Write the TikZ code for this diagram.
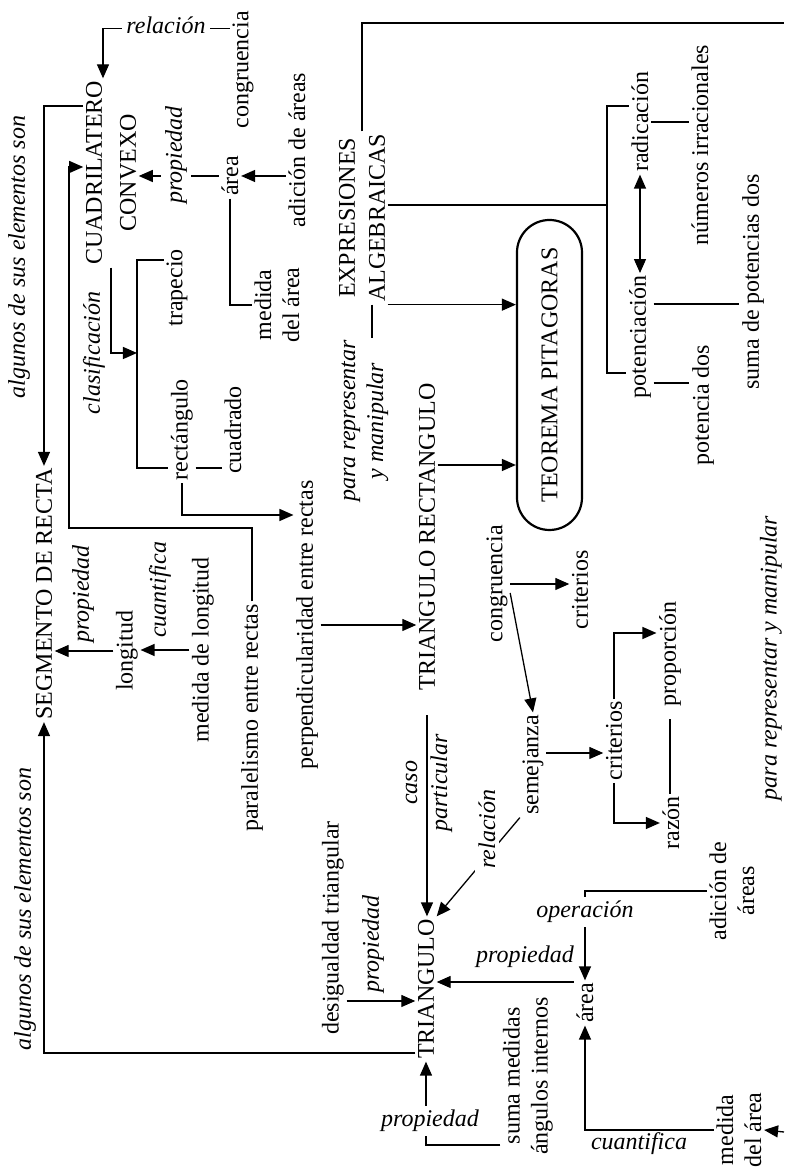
\documentclass[tikz,border=0pt]{standalone}
\usepackage{fontspec}
\setmainfont{Liberation Serif}
\usepackage{tikz}
\usetikzlibrary{arrows.meta}
\usetikzlibrary{shapes.misc}

\begin{document}
\begin{tikzpicture}[rotate=90, transform shape, x=1pt, y=1pt, line width=1.3pt,
            concepto/.style={font=\fontsize{24}{28}\selectfont, align=center, inner sep=2pt},
            enlace/.style={concepto, font=\fontsize{24}{28}\selectfont\itshape},
            corte/.style={enlace, fill=white, inner sep=4pt},
            teo/.style={concepto, draw, line width=2.2pt, rounded rectangle, minimum width=314pt, minimum height=65pt},
            flecha/.style={-{Triangle[length=14pt,width=12pt]}},
            flechas/.style={{Triangle[length=14pt,width=12pt]}-{Triangle[length=14pt,width=12pt]}}
            ]
            \useasboundingbox (0,0) rectangle (1169,784);
            
            % The concepts
            \node[concepto] (cuadri) at (996,673) {CUADRILATERO\\[6pt]CONVEXO};
            \node[concepto] (congruA) at (1099,541) {congruencia};
            \node[concepto] (adicionA) at (1019,487) {adición de áreas};
            \node[concepto] (areaA) at (993,554) {área};
            \node[concepto] (medidaA) at (864,507) {medida\\del área};
            \node[concepto] (expr) at (951,422) {EXPRESIONES\\[2pt]ALGEBRAICAS};
            \node[teo] (teorema) at (794,234.5) {TEOREMA PITAGORAS};
            \node[concepto] (radic) at (1047,144) {radicación};
            \node[concepto] (poten) at (832,144) {potenciación};
            \node[concepto] (irrac) at (1024,84) {números irracionales};
            \node[concepto] (sumapot) at (887,31) {suma de potencias dos};
            \node[concepto] (potdos) at (764,81) {potencia dos};
            \node[concepto] (trapecio) at (881,607) {trapecio};
            \node[concepto] (rectang) at (739,602) {rectángulo};
            \node[concepto] (cuadrado) at (739,551) {cuadrado};
            \node[concepto] (segmento) at (575,740) {SEGMENTO DE RECTA};
            \node[concepto] (longitud) at (518,657) {longitud};
            \node[concepto] (medlong) at (519,581) {medida de longitud};
            \node[concepto] (paral) at (451,532) {paralelismo entre rectas};
            \node[concepto] (perp) at (544,477) {perpendicularidad entre rectas};
            \node[concepto] (trirect) at (632,357) {TRIANGULO RECTANGULO};
            \node[concepto] (congruB) at (585,287) {congruencia};
            \node[concepto] (critA) at (579,204) {criterios};
            \node[concepto] (semej) at (404,251) {semejanza};
            \node[concepto] (critB) at (428,170) {criterios};
            \node[concepto] (proporc) at (515,114) {proporción};
            \node[concepto] (razon) at (346,113) {razón};
            \node[concepto] (triang) at (180,358) {TRIANGULO};
            \node[concepto] (desig) at (241,451) {desigualdad triangular};
            \node[concepto] (suma) at (93,256) {suma medidas\\ángulos internos};
            \node[concepto] (areaB) at (166,199) {área};
            \node[concepto] (adicionB) at (278,52) {adición de\\áreas};
            \node[concepto] (medidaB) at (39,45) {medida\\del área};
            \node[enlace] (pararepA) at (748,419) {para representar\\y manipular};
            
            \coordinate (bordeA) at (1146,0);
            \coordinate (bordeB) at (37,0);
            \coordinate (barra) at (964,177);
            \coordinate (clasb) at (816,647);
            \coordinate (codo) at (641,715);
            
            % The connectors
            \draw[flecha] ([xshift=-20pt]congruA.north east) |- ([yshift=8pt]cuadri.east);
            \draw[flecha] (adicionA.north -| areaA) -- (areaA.south);
            \draw[flecha] (areaA.north) -- (areaA.north |- cuadri.south);
            \draw (areaA.west) -| (medidaA.north);
            \draw ([yshift=-10pt]expr.west) -- ([yshift=-7pt]pararepA.east);
            \draw[flecha] (expr.south west) -- (expr.south west |- teorema.north);
            \draw (expr.east) -| (bordeA);
            \draw ([xshift=13pt]expr.south) -- (barra);
            \draw ([xshift=16pt]radic.north) |- (barra) -| ([xshift=-36pt]poten.north);
            \draw[flechas] (radic.west) -- (poten.east);
            \draw (radic.south) -- (radic.south |- irrac.north);
            \draw ([xshift=33pt]poten.south) -- ([xshift=-22pt]sumapot.north);
            \draw ([xshift=-46pt]poten.south) -- ([xshift=22pt]potdos.north);
            \draw[flecha] ([xshift=72pt]trirect.south) -- ([xshift=-90pt]teorema.north);
            \draw[flecha] (cuadri.west) -| (clasb);
            \draw ([xshift=28pt]trapecio.north) |- (clasb) -| ([xshift=-38pt]rectang.north);
            \draw ([xshift=-38pt]rectang.south) -- ([xshift=-38pt]cuadrado.north);
            \draw[flecha] (rectang.west) -| ([xshift=110pt]perp.north);
            \draw[flecha] (paral.east) -| (codo) -| ([xshift=6pt]cuadri.north);
            \draw[flecha] ([xshift=67pt]cuadri.north) |- (segmento.east);
            \draw[flecha] ([xshift=-64pt]triang.north) |- (segmento.west);
            \draw[flecha] (longitud.north) -- (longitud.north |- segmento.south);
            \draw[flecha] (medlong.north) -- (medlong.north |- longitud.south);
            \draw[flecha] (perp.south) -- (perp.south |- trirect.north);
            \draw[flecha, shorten <=22pt] (trirect.west) -- (trirect.west -| triang.east);
            \draw[flecha] (congruB.south) -- (congruB.south |- critA.north);
            \draw[flecha] ([xshift=-9pt]congruB.south) -- (semej.east);
            \draw[flecha] ([xshift=12pt]semej.south) -- ([xshift=-12pt]critB.north);
            \draw[flecha] (critB.east) -| ([xshift=21pt]proporc.north);
            \draw[flecha] (critB.west) -| (razon.north);
            \draw[shorten <=10pt] (proporc.west) -- (proporc.west -| razon.east);
            \draw[flecha] (semej.north west) -- (triang.south east);
            \draw[flecha] ([xshift=-73pt]desig.south) -- ([xshift=-12pt]triang.north);
            \draw[flecha] ([xshift=-69pt]suma.north) |- (triang.west);
            \draw[flecha] ([xshift=21pt]areaB.north) -- ([xshift=7pt]triang.south);
            \draw[flecha] (adicionB.north) |- (areaB.east);
            \draw[flecha] (medidaB.north) |- (areaB.west);
            \draw[flecha] (bordeB) -- (medidaB.south);
            
            % The labels
            \node[corte, rotate=-90] (relA) at (1144,618) {relación};
            \node[corte] (propA) at (1014,608) {propiedad};
            \node[enlace] (clasif) at (816,690) {clasificación};
            \node[enlace] (algunosA) at (912,765) {algunos de sus elementos son};
            \node[enlace] (algunosB) at (260,759) {algunos de sus elementos son};
            \node[enlace] (propB) at (575,701) {propiedad};
            \node[enlace] (cuantB) at (579,624) {cuantifica};
            \node[enlace] (pararepB) at (511,13) {para representar y manipular};
            \node[enlace] (caso) at (386,355) {caso\\[2pt]particular};
            \node[corte] (relB) at (340,297) {relación};
            \node[enlace] (propC) at (225,411) {propiedad};
            \node[corte, rotate=-90] (propD) at (48,354) {propiedad};
            \node[enlace, rotate=-90] (propE) at (212,259) {propiedad};
            \node[corte, rotate=-90] (operac) at (257,199) {operación};
            \node[enlace, rotate=-90] (cuantC) at (25,145) {cuantifica};
        \end{tikzpicture}
\end{document}
